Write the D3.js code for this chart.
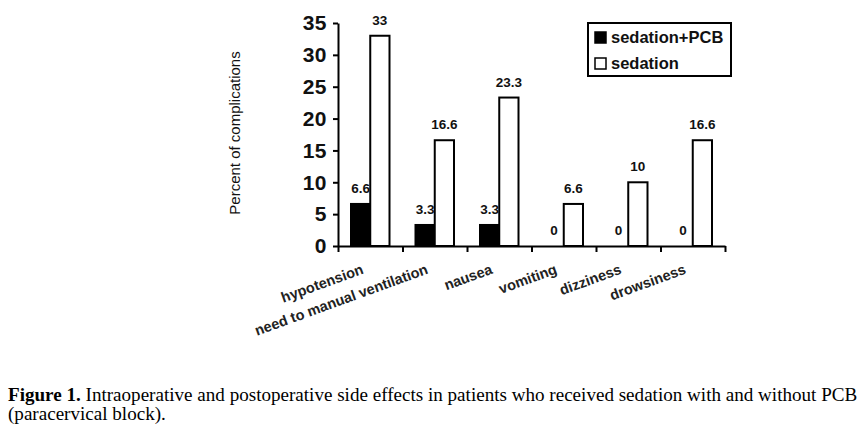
<!DOCTYPE html>
<html lang='en'>
<head>
    <meta charset='UTF-8'>
    <title>Figure 1</title>
    <style>
        body { margin: 0; background: #fff; }
        svg { display: block; }
    </style>
</head>
<body>
    <div id='anchor'></div>
    <script src='https://cdnjs.cloudflare.com/ajax/libs/d3/7.8.5/d3.min.js'></script>
    <script>
        // values
        const categories = ['hypotension', 'need to manual ventilation', 'nausea', 'vomiting', 'dizziness', 'drowsiness'];
        const seriesNames = ['sedation+PCB', 'sedation'];
        const withPCB = [6.6, 3.3, 3.3, 0, 0, 0];
        const sedationOnly = [33, 16.6, 23.3, 6.6, 10, 16.6];
        const yTicks = [0, 5, 10, 15, 20, 25, 30, 35];
        const captionBold = 'Figure 1.';
        const captionLine1 = ' Intraoperative and postoperative side effects in patients who received sedation with and without PCB';
        const captionLine2 = '(paracervical block).';

        const sans = "'Liberation Sans', Arial, sans-serif";
        const serif = "'Liberation Serif', 'Times New Roman', serif";

        const svg = d3.select('#anchor').append('svg')
            .attr('width', 866)
            .attr('height', 432);

        const x0 = d3.scaleBand().domain(categories).range([338, 725]).padding(0);
        const x1 = d3.scaleBand().domain(seriesNames).range([13, 51.5]).padding(0);
        const y = d3.scaleLinear().domain([0, 35]).range([246, 23]);
        const fills = { 'sedation+PCB': '#000', 'sedation': '#fff' };

        const rows = categories.map((c, i) => ({
            cat: c,
            vals: [
                { name: seriesNames[0], v: withPCB[i] },
                { name: seriesNames[1], v: sedationOnly[i] }
            ]
        }));

        // bars
        const group = svg.append('g')
            .selectAll('g')
            .data(rows)
            .join('g')
            .attr('transform', d => `translate(${x0(d.cat)},0)`);

        group.selectAll('rect')
            .data(d => d.vals)
            .join('rect')
            .attr('x', d => x1(d.name))
            .attr('y', d => y(d.v))
            .attr('width', x1.bandwidth())
            .attr('height', d => y(0) - y(d.v))
            .attr('fill', d => fills[d.name])
            .attr('stroke', '#000')
            .attr('stroke-width', 2);

        group.selectAll('text')
            .data(d => d.vals)
            .join('text')
            .attr('x', d => x1(d.name) + x1.bandwidth() / 2)
            .attr('y', d => y(d.v) - 11)
            .attr('text-anchor', 'middle')
            .attr('font-family', sans)
            .attr('font-weight', 'bold')
            .attr('font-size', 13.5)
            .attr('fill', '#111')
            .text(d => d.v);

        // y axis
        const yAxis = svg.append('g')
            .attr('transform', 'translate(338,0)')
            .call(d3.axisLeft(y).tickValues(yTicks).tickSize(5).tickSizeOuter(0).tickPadding(6));
        yAxis.select('.domain').attr('stroke-width', 2);
        yAxis.selectAll('.tick line').attr('stroke-width', 2);
        yAxis.selectAll('.tick text')
            .attr('font-family', sans)
            .attr('font-weight', 'bold')
            .attr('font-size', 21)
            .attr('letter-spacing', 0.5)
            .attr('fill', '#111');

        // x axis: ticks between categories
        const xIdx = d3.scaleLinear().domain([0, categories.length]).range(x0.range());
        const xAxis = svg.append('g')
            .attr('transform', `translate(0,${y(0)})`)
            .call(d3.axisBottom(xIdx).tickValues(d3.range(categories.length + 1)).tickFormat('').tickSize(6).tickSizeOuter(0));
        xAxis.select('.domain').attr('stroke-width', 2);
        xAxis.selectAll('.tick line').attr('stroke-width', 2);

        svg.append('g')
            .selectAll('text')
            .data(categories)
            .join('text')
            .attr('transform', d => `translate(${x0(d) + x0.bandwidth() / 2 - 9.6},263) rotate(-20)`)
            .attr('dy', '0.75em')
            .attr('text-anchor', 'end')
            .attr('font-family', sans)
            .attr('font-weight', 'bold')
            .attr('font-size', 14.5)
            .attr('fill', '#222')
            .text(d => d);

        // y title
        svg.append('text')
            .attr('transform', 'translate(240,133) rotate(-90)')
            .attr('text-anchor', 'middle')
            .attr('font-family', sans)
            .attr('font-size', 15)
            .attr('fill', '#111')
            .text('Percent of complications');

        // legend
        const legend = svg.append('g').attr('transform', 'translate(588,23)');
        legend.append('rect')
            .attr('width', 143).attr('height', 53)
            .attr('fill', '#fff').attr('stroke', '#000').attr('stroke-width', 2);
        const item = legend.selectAll('g')
            .data(seriesNames)
            .join('g')
            .attr('transform', (d, i) => `translate(7,${9 + i * 26})`);
        item.append('rect')
            .attr('width', 11).attr('height', 11)
            .attr('fill', d => fills[d])
            .attr('stroke', '#000').attr('stroke-width', 1.5);
        item.append('text')
            .attr('x', 16).attr('y', 11)
            .attr('font-family', sans)
            .attr('font-weight', 'bold')
            .attr('font-size', 16.5)
            .attr('fill', '#111')
            .text(d => d);

        // caption
        const cap1 = svg.append('text')
            .attr('x', 0).attr('y', 0)
            .attr('font-family', serif)
            .attr('font-size', 19)
            .attr('fill', '#000');
        cap1.append('tspan').attr('font-weight', 'bold').text(captionBold);
        cap1.append('tspan').text(captionLine1);
        const w1 = cap1.node().getComputedTextLength();
        const sx = 850 / w1;
        cap1.attr('transform', `translate(8,401) scale(${sx},1)`);

        svg.append('text')
            .attr('transform', `translate(8,420) scale(${sx},1)`)
            .attr('font-family', serif)
            .attr('font-size', 19)
            .attr('fill', '#000')
            .text(captionLine2);
    </script>
</body>
</html>
